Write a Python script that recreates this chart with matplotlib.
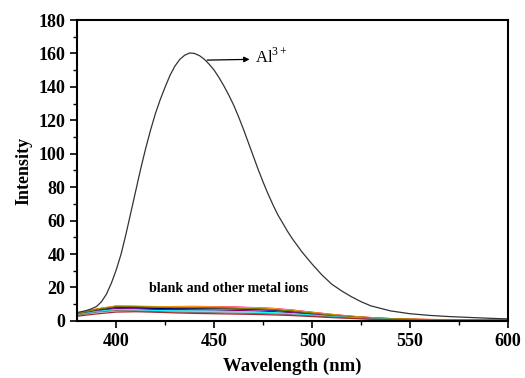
import matplotlib
matplotlib.use("Agg")
import matplotlib.pyplot as plt
from matplotlib.ticker import MultipleLocator

plt.rcParams['font.family'] = ['Liberation Serif', 'DejaVu Serif']
plt.rcParams['mathtext.fontset'] = 'custom'
plt.rcParams['mathtext.rm'] = 'Liberation Serif'

# Al3+ emission spectrum
wl_al = [380, 382.5, 385, 387.5, 390, 392.5, 395, 397.5, 400, 402.5, 405, 407.5,
         410, 412.5, 415, 417.5, 420, 422.5, 425, 427.5, 430, 432.5, 435, 437.5,
         440, 442.5, 445, 447.5, 450, 452.5, 455, 457.5, 460, 462.5, 465, 467.5,
         470, 472.5, 475, 477.5, 480, 482.5, 485, 487.5, 490, 495, 500, 505, 510,
         515, 520, 525, 530, 540, 550, 560, 570, 580, 590, 600]
int_al = [5, 5.6, 6.3, 7.3, 8.7, 11.5, 16, 22.5, 30.5, 40, 52, 65,
          78, 91, 103, 114, 124, 132.5, 140, 147, 152.5, 156.5, 159, 160.3,
          160, 158.7, 156.5, 153.5, 150, 145.5, 140.5, 135, 129, 122, 114.5, 106.5,
          98.5, 90.5, 83, 76, 69.5, 63.5, 58.5, 53.5, 49, 41, 34, 27.5, 22,
          18, 14.5, 11.5, 9, 6, 4.3, 3.3, 2.6, 2.1, 1.6, 1.2]

# blank and other metal ions
wl_o = [380, 390, 400, 410, 420, 430, 440, 450, 460, 470, 480, 490, 500,
        510, 520, 530, 540, 550, 560, 580, 600]
others = {
    'black':   [4.5, 7.0, 8.8, 8.6, 8.3, 8.2, 8.1, 8.0, 7.8, 7.5, 7.0, 6.0, 4.8, 3.6, 2.6, 1.8, 1.2, 0.9, 0.7, 0.5, 0.4],
    'red':     [4.3, 6.8, 8.6, 8.5, 8.2, 8.1, 8.3, 8.4, 8.2, 7.8, 7.3, 6.3, 5.0, 3.8, 2.7, 1.9, 1.3, 1.0, 0.8, 0.6, 0.5],
    'blue':    [4.0, 6.5, 8.0, 7.8, 7.2, 7.0, 7.3, 7.4, 7.2, 6.9, 6.4, 5.5, 4.4, 3.3, 2.4, 1.6, 1.1, 0.8, 0.6, 0.5, 0.4],
    '#ff00ff': [4.4, 7.0, 8.7, 8.6, 8.4, 8.6, 8.7, 8.5, 8.3, 8.0, 7.5, 6.5, 5.2, 3.9, 2.8, 2.0, 1.4, 1.0, 0.8, 0.6, 0.5],
    'green':   [4.2, 6.8, 8.5, 8.4, 8.1, 8.0, 8.0, 7.9, 7.7, 7.4, 6.9, 6.0, 4.8, 3.6, 2.6, 1.8, 1.2, 0.9, 0.7, 0.5, 0.4],
    'navy':    [4.1, 6.6, 8.3, 8.0, 7.5, 7.3, 7.5, 7.6, 7.4, 7.1, 6.6, 5.7, 4.6, 3.4, 2.5, 1.7, 1.1, 0.8, 0.6, 0.5, 0.4],
    'orange':  [4.6, 7.2, 9.0, 8.9, 8.6, 8.5, 8.5, 8.4, 8.2, 7.9, 7.4, 6.4, 5.1, 3.9, 2.8, 2.0, 1.4, 1.1, 0.9, 0.7, 0.6],
    'purple':  [3.8, 6.0, 7.4, 7.2, 6.8, 6.6, 6.6, 6.5, 6.3, 6.0, 5.6, 4.9, 3.9, 2.9, 2.1, 1.4, 1.0, 0.7, 0.5, 0.4, 0.3],
    'olive':   [4.3, 6.9, 8.6, 8.5, 8.2, 8.0, 7.9, 7.8, 7.6, 7.3, 6.8, 5.9, 4.7, 3.5, 2.5, 1.7, 1.2, 0.9, 0.7, 0.5, 0.4],
    'cyan':    [3.6, 5.6, 6.8, 6.6, 6.2, 6.0, 5.9, 5.8, 5.6, 5.3, 4.9, 4.3, 3.5, 2.6, 1.9, 1.3, 0.9, 0.6, 0.5, 0.4, 0.3],
    'gray':    [3.4, 5.2, 6.2, 6.0, 5.6, 5.3, 5.1, 4.9, 4.7, 4.5, 4.2, 3.7, 3.0, 2.3, 1.7, 1.2, 0.8, 0.6, 0.5, 0.4, 0.3],
    '#a52a2a': [2.8, 4.2, 5.3, 5.5, 5.2, 4.8, 4.5, 4.3, 4.1, 3.9, 3.6, 3.2, 2.6, 2.0, 1.5, 1.0, 0.7, 0.5, 0.4, 0.3, 0.3],
}

fig = plt.figure(figsize=(5.25, 3.78), dpi=100)
ax = fig.add_axes([0.1467, 0.151, 0.821, 0.796])

for c, vals in others.items():
    ax.plot(wl_o, vals, color=c, lw=0.9)
ax.plot(wl_al, int_al, color='#333333', lw=0.9)

ax.set_xlim(380, 600)
ax.set_ylim(0, 180)
ax.xaxis.set_major_locator(MultipleLocator(50))
ax.xaxis.set_minor_locator(MultipleLocator(25))
ax.yaxis.set_major_locator(MultipleLocator(20))
ax.yaxis.set_minor_locator(MultipleLocator(10))
ax.tick_params(which='major', direction='out', length=5, width=1.2, labelsize=13)
ax.tick_params(which='minor', direction='out', length=3, width=1.0)
for lab in ax.get_xticklabels() + ax.get_yticklabels():
    lab.set_fontweight('bold')
for s in ax.spines.values():
    s.set_linewidth(1.5)

ax.set_xlabel('Wavelength (nm)', fontsize=13.5, fontweight='bold', labelpad=6)
ax.set_ylabel('Intensity', fontsize=13, fontweight='bold', labelpad=4)

ax.annotate('', xy=(469.5, 156.5), xytext=(445, 156),
            arrowprops=dict(arrowstyle='-|>', color='black', lw=0.9, mutation_scale=8))
ax.text(471, 158, r'Al$^{3+}$', fontsize=12, va='center', ha='left')
ax.text(457.5, 19.5, 'blank and other metal ions', fontsize=10, fontweight='bold',
        ha='center', va='center')

fig.savefig('out.png', dpi=100)
